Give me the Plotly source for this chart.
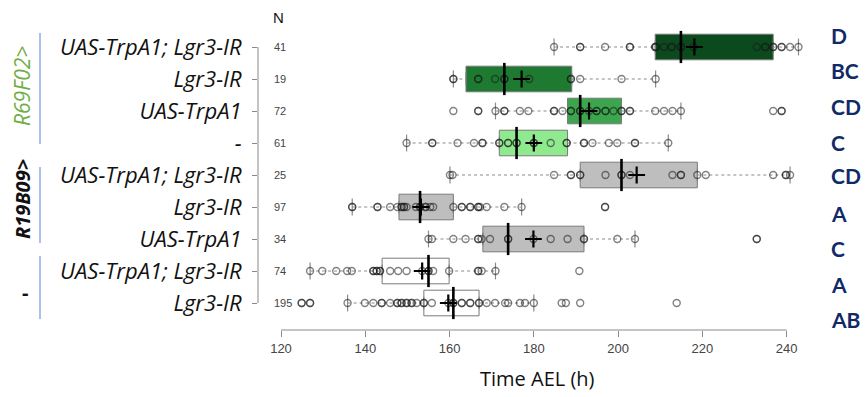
import plotly.graph_objects as go

# ---------------- data (rows listed top to bottom) ----------------
genotypes = ["UAS-TrpA1; Lgr3-IR", "Lgr3-IR", "UAS-TrpA1", "-",
             "UAS-TrpA1; Lgr3-IR", "Lgr3-IR", "UAS-TrpA1",
             "UAS-TrpA1; Lgr3-IR", "Lgr3-IR"]
n_values = [41, 19, 72, 61, 25, 97, 34, 74, 195]
q1 = [208.8, 163.9, 188.0, 171.8, 191.0, 148.0, 167.9, 144.0, 153.9]
medians = [214.9, 173.0, 191.0, 175.9, 200.8, 153.0, 173.9, 155.0, 160.9]
q3 = [236.8, 189.0, 200.8, 188.0, 218.8, 160.9, 191.9, 159.9, 167.0]
whisker_lo = [184.8, 160.9, 170.9, 149.8, 160.1, 136.9, 155.0, 126.9, 135.8]
whisker_hi = [242.8, 208.9, 214.9, 211.9, 240.8, 177.1, 204.0, 170.9, 180.0]
means = [218.1, 177.1, 193.1, 180.0, 204.4, 153.2, 179.9, 153.5, 159.7]
points = [
    [184.8, 191.0, 191.0, 196.9, 202.8, 202.8, 208.8, 208.8, 209.0, 210.9, 212.7, 212.7,
     214.9, 214.9, 217.9, 232.9, 234.9, 234.9, 236.8, 236.8, 238.8, 238.8, 240.8, 242.8],
    [160.9, 160.9, 166.8, 166.8, 170.8, 173.0, 173.0, 178.9, 188.8, 188.8, 191.0, 200.8, 208.9],
    [160.9, 166.8, 166.8, 170.9, 173.0, 173.0, 176.7, 178.7, 184.8, 184.8, 186.8, 188.8, 188.8,
     191.0, 191.0, 193.1, 194.9, 194.9, 197.0, 197.0, 198.9, 200.8, 200.8, 202.8, 202.8,
     208.8, 210.9, 212.9, 214.9, 236.8, 238.8, 238.8],
    [149.8, 155.9, 155.9, 161.9, 165.8, 167.8, 167.8, 171.8, 171.8, 173.9, 173.9, 175.9, 175.9,
     180.0, 180.0, 184.0, 187.8, 187.8, 191.9, 191.9, 193.9, 197.8, 199.8, 204.0, 204.0, 211.9],
    [160.1, 160.7, 184.8, 188.8, 188.8, 191.0, 191.0, 197.0, 200.8, 200.8, 202.8, 212.9,
     214.9, 214.9, 218.8, 220.8, 236.8, 239.8, 239.8, 240.8],
    [136.9, 136.9, 142.9, 142.9, 145.9, 147.6, 148.6, 148.6, 149.2, 149.2, 149.8, 152.0,
     153.0, 153.0, 154.3, 154.3, 155.4, 156.1, 160.9, 162.9, 162.9, 164.9, 164.9, 166.8,
     166.8, 167.2, 168.8, 173.0, 177.1, 196.9, 196.9],
    [155.0, 155.8, 160.9, 163.8, 166.8, 166.8, 167.6, 169.6, 173.9, 173.9, 179.9, 184.0,
     188.0, 191.9, 191.9, 199.8, 204.0, 232.9, 232.9],
    [126.9, 129.8, 133.1, 135.7, 136.8, 141.9, 141.9, 142.7, 142.7, 143.5, 143.5, 145.9,
     147.8, 149.8, 153.5, 155.0, 155.0, 156.1, 159.9, 166.8, 166.8, 167.6, 170.9, 190.8],
    [124.9, 124.9, 126.9, 126.9, 135.8, 139.9, 141.9, 143.9, 143.9, 145.9, 147.6, 147.6,
     148.6, 148.6, 149.8, 149.8, 151.0, 151.0, 152.2, 153.9, 153.9, 155.8, 159.7, 160.9,
     160.9, 162.9, 162.9, 164.9, 164.9, 167.0, 167.0, 168.8, 170.8, 173.2, 173.9, 176.7,
     177.9, 180.0, 186.6, 187.6, 191.0, 213.9],
]
letters = ["D", "BC", "CD", "C", "CD", "A", "C", "A", "AB"]
groups = ["R69F02>", "R19B09>", "-"]
x_ticks = [120, 140, 160, 180, 200, 220, 240]
x_title = "Time AEL (h)"

# ---------------- styles ----------------
box_fills = ["#0a4a1c", "#1d7a30", "#3ca64e", "#8fe98f",
             "#bebebe", "#bebebe", "#bebebe", "#ffffff", "#ffffff"]
W, H = 866, 397
L, R, T, B = 258, 46, 25, 67
PW, PH = W - L - R, H - T - B
PT_COL = "rgba(25,25,25,0.55)"
GRAY = "#8a8a8a"


def px_x(px):
    return (px - L) / PW


def px_y(py):
    return (H - B - py) / PH


nrows = len(genotypes)
ypos = [nrows - i for i in range(nrows)]

fig = go.Figure()
for i in range(nrows):
    y = ypos[i]
    for a, b in ((whisker_lo[i], q1[i]), (q3[i], whisker_hi[i])):
        fig.add_trace(go.Scatter(x=[a, b], y=[y, y], mode="lines",
                                 line=dict(color=GRAY, width=1, dash="3px,3px"),
                                 hoverinfo="skip"))
    fig.add_trace(go.Box(y=[y], q1=[q1[i]], median=[medians[i]], q3=[q3[i]],
                         lowerfence=[q1[i]], upperfence=[q3[i]], orientation="h",
                         fillcolor=box_fills[i], line=dict(color="#7a7a7a", width=1),
                         width=0.8, boxpoints=False, hoverinfo="skip"))
    fig.add_trace(go.Scatter(x=[whisker_lo[i], whisker_hi[i]], y=[y, y], mode="markers",
                             marker=dict(symbol="line-ns", size=12, color=GRAY,
                                         line=dict(color=GRAY, width=1.2)),
                             hoverinfo="skip"))
    fig.add_trace(go.Scatter(x=points[i], y=[y] * len(points[i]), mode="markers",
                             marker=dict(symbol="circle-open", size=7, color=PT_COL,
                                         line=dict(color=PT_COL, width=1.4)),
                             hoverinfo="skip"))
    fig.add_trace(go.Scatter(x=[medians[i]], y=[y], mode="markers",
                             marker=dict(symbol="line-ns", size=23, color="black",
                                         line=dict(color="black", width=2.6)),
                             hoverinfo="skip"))
    fig.add_trace(go.Scatter(x=[means[i]], y=[y], mode="markers",
                             marker=dict(symbol="cross-thin", size=12, color="black",
                                         line=dict(color="black", width=2.2)),
                             hoverinfo="skip"))

x0 = 120 - (281 - L) / 4.214
x1 = x0 + PW / 4.214

annotations = []
annotations.append(dict(x=px_x(278), y=px_y(17), xref="paper", yref="paper", text="N",
                        showarrow=False, xanchor="center", yanchor="middle",
                        font=dict(family="Liberation Sans", size=15, color="#111")))
for i in range(nrows):
    annotations.append(dict(x=px_x(272), y=ypos[i], xref="paper", yref="y", text=str(n_values[i]),
                            xanchor="left", yanchor="middle", showarrow=False,
                            font=dict(family="Liberation Sans", size=11, color="#444")))
letter_py = [35, 70, 106, 142, 175, 213, 248, 284, 319]
for i in range(nrows):
    annotations.append(dict(x=px_x(829), y=px_y(letter_py[i]), xref="paper", yref="paper",
                            text="<b>%s</b>" % letters[i], xanchor="left", yanchor="middle",
                            showarrow=False,
                            font=dict(family="Lato", size=21, color="#102a68")))
annotations.append(dict(x=px_x(22), y=px_y(86), xref="paper", yref="paper",
                        text="<i>%s</i>" % groups[0], textangle=-90, showarrow=False,
                        xanchor="center", yanchor="middle",
                        font=dict(family="Open Sans", size=21, color="#6fae45")))
annotations.append(dict(x=px_x(22), y=px_y(199), xref="paper", yref="paper",
                        text="<b><i>%s</i></b>" % groups[1], textangle=-90, showarrow=False,
                        xanchor="center", yanchor="middle",
                        font=dict(family="Open Sans", size=20, color="#111")))
annotations.append(dict(x=px_x(25), y=px_y(292), xref="paper", yref="paper",
                        text="<b>%s</b>" % groups[2], showarrow=False,
                        xanchor="center", yanchor="middle",
                        font=dict(family="Open Sans", size=20, color="#111")))
annotations.append(dict(x=px_x(537), y=px_y(378), xref="paper", yref="paper",
                        text=x_title, showarrow=False, xanchor="center", yanchor="middle",
                        font=dict(family="Open Sans", size=20, color="#111")))

shapes = [
    dict(type="line", xref="x", yref="paper", x0=120, x1=240, y0=0, y1=0,
         line=dict(color=GRAY, width=1)),
    dict(type="line", xref="paper", yref="y", x0=0, x1=0, y0=ypos[-1], y1=ypos[0],
         line=dict(color=GRAY, width=1)),
]
for a, b in ((33, 144), (167, 243), (256, 319)):
    shapes.append(dict(type="line", xref="paper", yref="paper", x0=px_x(40), x1=px_x(40),
                       y0=px_y(a), y1=px_y(b), line=dict(color="#7f9ee0", width=1.3)))

fig.update_layout(
    width=W, height=H, margin=dict(l=L, r=R, t=T, b=B, autoexpand=False),
    plot_bgcolor="white", paper_bgcolor="white", showlegend=False,
    xaxis=dict(range=[x0, x1], tickvals=x_ticks, ticks="outside", ticklen=6,
               tickcolor=GRAY, showgrid=False, zeroline=False, showline=False,
               tickfont=dict(family="Liberation Sans", size=13, color="#444")),
    yaxis=dict(range=[0.15625, nrows + 0.6875], tickvals=ypos,
               ticktext=["<i>%s</i>" % g for g in genotypes], ticks="outside", ticklen=5,
               tickcolor=GRAY, showgrid=False, zeroline=False, showline=False,
               ticklabelstandoff=6,
               tickfont=dict(family="Open Sans", size=22, color="#111")),
    annotations=annotations, shapes=shapes,
)
fig.write_html("out.html", config={"displayModeBar": False},
               post_script="document.body.style.margin='0';")
